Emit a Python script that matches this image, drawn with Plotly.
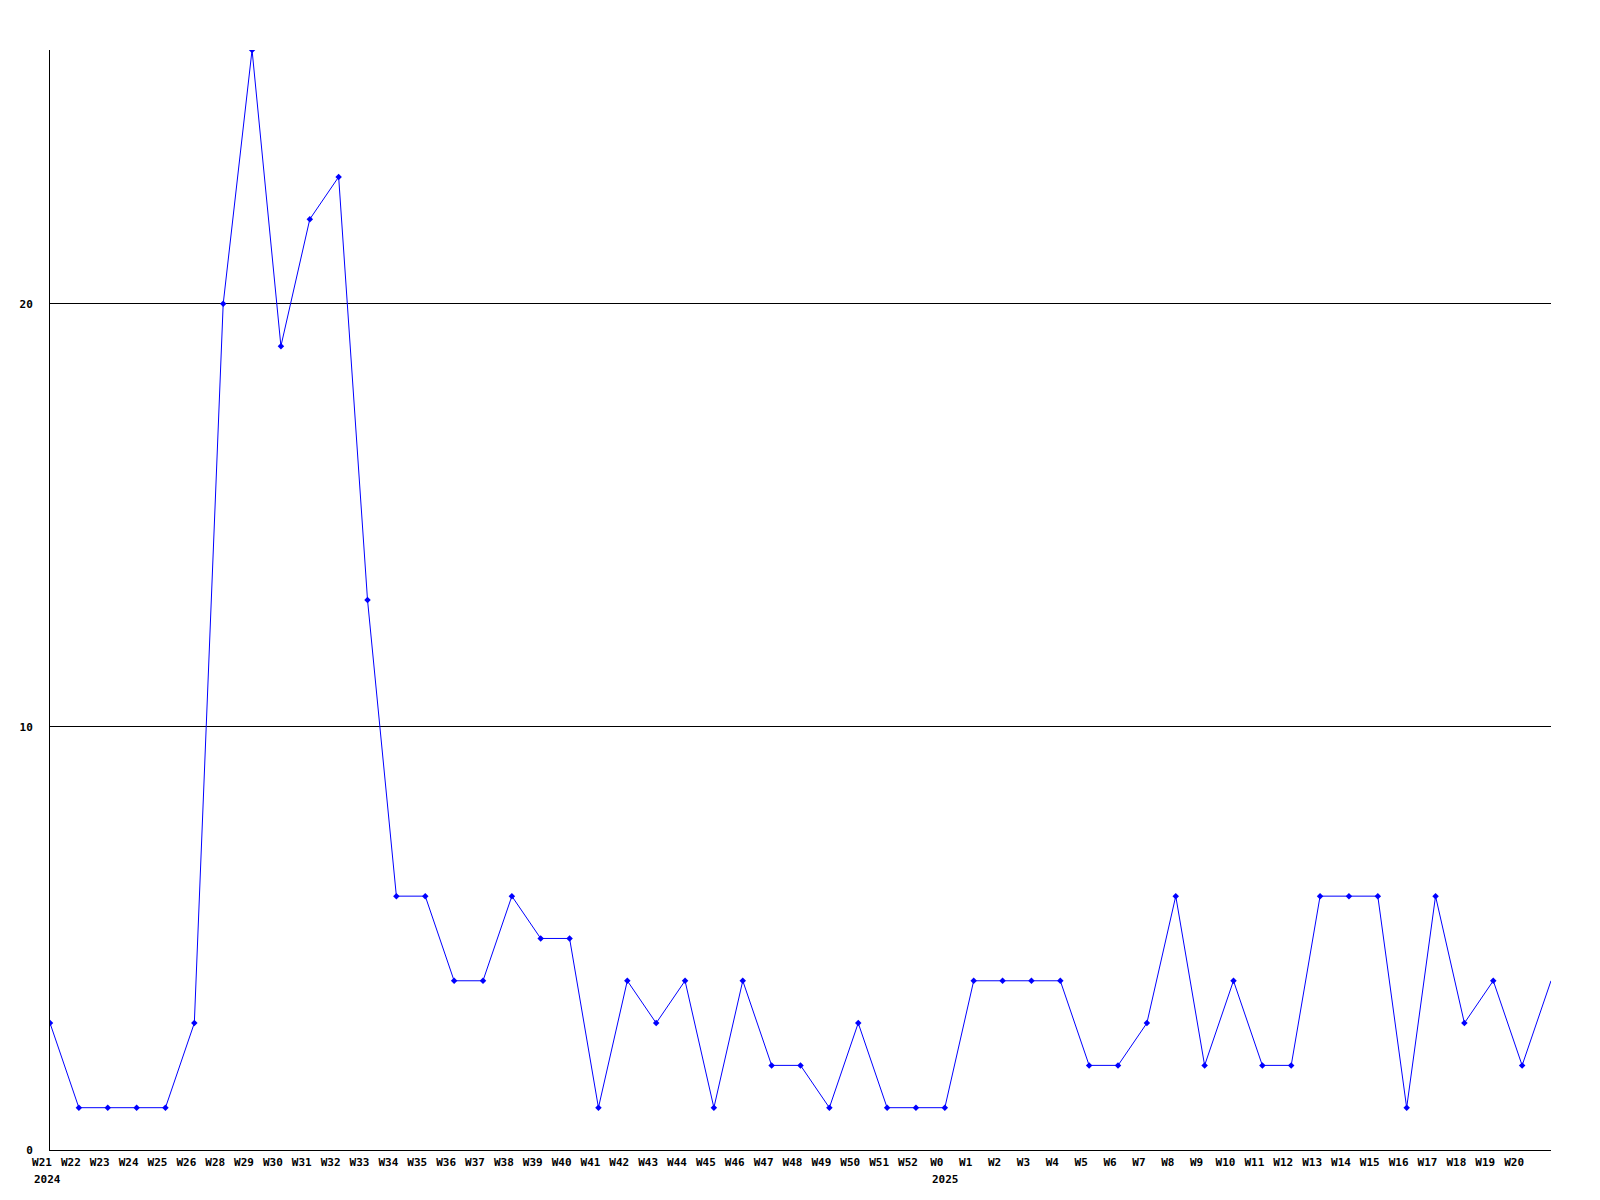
import plotly.graph_objects as go

# Week labels shown on the x axis (W27 is absent in the source chart)
weeks = ["W21", "W22", "W23", "W24", "W25", "W26", "W28", "W29", "W30", "W31",
         "W32", "W33", "W34", "W35", "W36", "W37", "W38", "W39", "W40", "W41",
         "W42", "W43", "W44", "W45", "W46", "W47", "W48", "W49", "W50", "W51",
         "W52", "W0", "W1", "W2", "W3", "W4", "W5", "W6", "W7", "W8",
         "W9", "W10", "W11", "W12", "W13", "W14", "W15", "W16", "W17", "W18",
         "W19", "W20"]

# Weekly counts; the final value belongs to the (unlabelled) next week, cut at the edge
values = [3, 1, 1, 1, 1, 3, 20, 26, 19, 22,
          23, 13, 6, 6, 4, 4, 6, 5, 5, 1,
          4, 3, 4, 1, 4, 2, 2, 1, 3, 1,
          1, 1, 4, 4, 4, 4, 2, 2, 3, 6,
          2, 4, 2, 2, 6, 6, 6, 1, 6, 3,
          4, 2, 4]

# Year markers: (week label, year text)
years = [("W21", "2024"), ("W0", "2025")]

y_ticks = [0, 10, 20]

xs = list(range(len(values)))
marker_x = xs[:len(weeks)]
marker_y = values[:len(weeks)]

FONT = "DejaVu Sans Mono"
LABEL_SHIFT = -8
CHAR_W = 6.6

fig = go.Figure()
fig.add_trace(go.Scatter(
    x=xs, y=values, mode="lines",
    line=dict(color="#0000ff", width=1),
    hoverinfo="skip", showlegend=False,
))
fig.add_trace(go.Scatter(
    x=marker_x, y=marker_y, mode="markers",
    marker=dict(color="#0000ff", size=5, symbol="diamond"),
    showlegend=False,
))

for wk, yr in years:
    idx = weeks.index(wk)
    fig.add_annotation(
        x=idx, xref="x", y=0, yref="paper",
        text=yr, showarrow=False,
        xanchor="left", yanchor="top",
        xshift=LABEL_SHIFT - len(wk) * CHAR_W / 2, yshift=-21,
        font=dict(family=FONT, size=11, color="black", weight="bold"),
    )

# the page body adds an 8px offset, so margins compensate for it
fig.update_layout(
    width=1600, height=1200,
    margin=dict(l=42, r=57, t=42, b=58),
    paper_bgcolor="white", plot_bgcolor="white",
    xaxis=dict(
        range=[0, len(values) - 1],
        tickmode="array", tickvals=list(range(len(weeks))), ticktext=weeks,
        showgrid=False, zeroline=False,
        showline=True, linecolor="black", linewidth=1,
        ticks="", ticklabelshift=LABEL_SHIFT, ticklabelstandoff=2,
        tickfont=dict(family=FONT, size=11, color="black", weight="bold"),
        tickangle=0, automargin=False,
    ),
    yaxis=dict(
        range=[0, 26],
        tickmode="array", tickvals=y_ticks,
        showgrid=True, gridcolor="black", gridwidth=1,
        zeroline=False,
        showline=True, linecolor="black", linewidth=1,
        ticks="", ticklabelstandoff=14,
        tickfont=dict(family=FONT, size=11, color="black", weight="bold"),
        automargin=False,
    ),
)

fig.write_html("out.html")
